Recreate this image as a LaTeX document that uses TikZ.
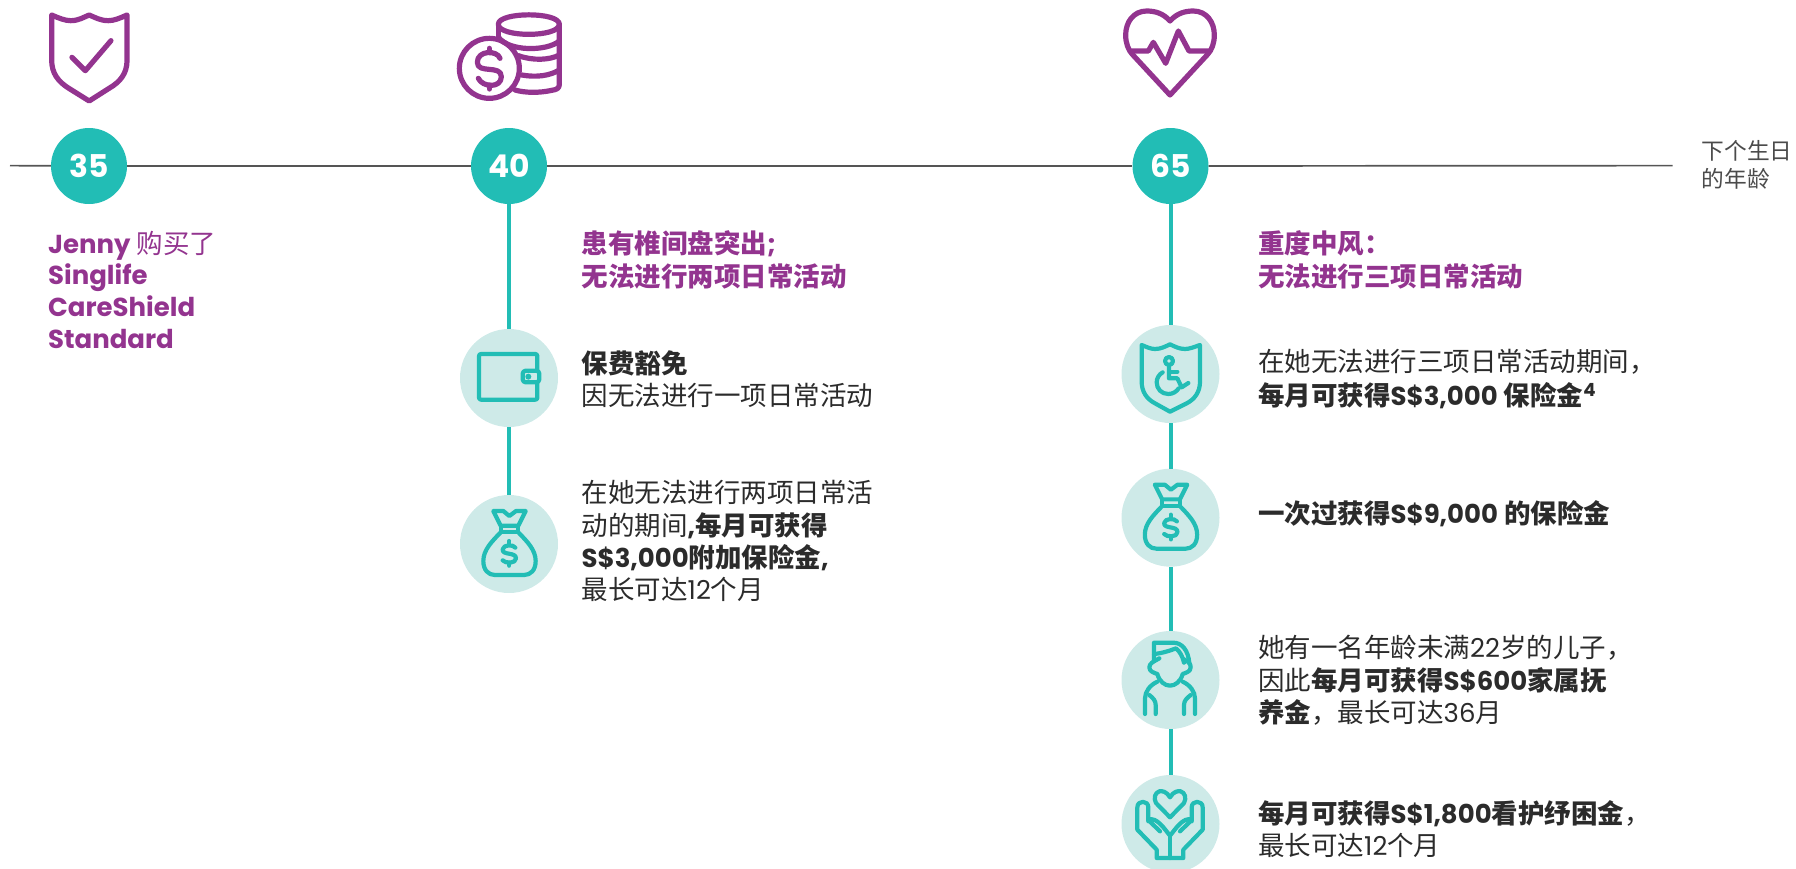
\documentclass[tikz,border=0pt]{standalone}
\usepackage{fontspec}
\setmainfont{Noto Sans CJK SC}
\newfontfamily\latf[Scale=0.98]{Poppins}
\newcommand\Lat[1]{{\latf #1}}
\definecolor{vio}{HTML}{93348F}
\definecolor{tealc}{HTML}{22BDB5}
\definecolor{pale}{HTML}{CEEAE8}
\definecolor{ink}{HTML}{2B2B2B}
\definecolor{axis}{HTML}{555555}
\tikzset{
  agec/.style={circle,fill=tealc,text=white,minimum size=76pt,inner sep=0pt,font=\fontsize{32}{32}\selectfont\bfseries},
  evc/.style={circle,fill=pale,minimum size=98pt,inner sep=0pt},
  blk/.style={anchor=north west,inner sep=0pt,align=left,text=ink,font=\fontsize{26.5}{32}\selectfont},
  head/.style={blk,text=vio,font=\fontsize{26.5}{31.7}\selectfont\bfseries},
  note/.style={anchor=north west,inner sep=0pt,align=left,text=ink!85,font=\fontsize{22.7}{28}\selectfont},
  axisline/.style={draw=axis,line width=1.7pt},
  stem/.style={draw=tealc,line width=4pt},
  icv/.style={draw=vio,line width=5.2pt,line join=round,line cap=round},
  ict/.style={draw=tealc,line width=4.2pt,line join=round,line cap=round},
  zoomed/.style={x=0.33333pt,y=-0.33333pt}
}
\newcommand\BagIcon{%
  \draw[ict] (100,48) -- (130,48) -- (148,63) -- (168,48) -- (197,48) -- (175,92) -- (122,92) -- cycle;
  \draw[ict] (122,92) -- (122,112) -- (175,112) -- (175,92);
  \draw[ict] (122,112) .. controls (95,140) and (70,165) .. (70,198) .. controls (70,225) and (85,240) .. (105,240) -- (192,240) .. controls (212,240) and (227,225) .. (227,198) .. controls (227,165) and (202,140) .. (175,112);
  \draw[ict] (166,158) .. controls (160,148) and (130,148) .. (128,163) .. controls (126,182) and (168,170) .. (168,190) .. controls (168,206) and (136,206) .. (128,196);
  \draw[ict] (148,138) -- (148,149) (148,203) -- (148,212);
}
\begin{document}
\begin{tikzpicture}[x=1pt,y=-1pt]
\useasboundingbox (0,0) rectangle (1796,868);
\clip (0,0) rectangle (1796,868);
% timeline
\coordinate (ls) at (10,165.6);
\coordinate (le) at (1672.6,165.6);
\node[agec] (a35) at (89,166) {\Lat{35}};
\node[agec] (a40) at (509,166) {\Lat{40}};
\node[agec] (a65) at (1170.5,166) {\Lat{65}};
\draw[axisline] (ls) -- (a35);
\draw[axisline] (a35) -- (a40);
\draw[axisline] (a40) -- (a65);
\draw[axisline] (a65) -- (le);
% event circles
\node[evc] (e1) at (509,378) {};
\node[evc] (e2) at (509,544) {};
\node[evc] (f1) at (1170.5,374) {};
\node[evc] (f2) at (1170.5,517.7) {};
\node[evc] (f3) at (1170.5,680) {};
\node[evc] (f4) at (1170.5,824) {};
\draw[stem] (a40) -- (e1);
\draw[stem] (e1) -- (e2);
\draw[stem] (a65) -- (f1);
\draw[stem] (f1) -- (f2);
\draw[stem] (f2) -- (f3);
\draw[stem] (f3) -- (f4);
% texts
\node[head] (tj) at (48,230.6) {\strut\Lat{Jenny} {\mdseries 购买了}\\\Lat{Singlife}\\\Lat{CareShield}\\\Lat{Standard}\strut};
\node[head] (t40) at (581.5,230.6) {\strut 患有椎间盘突出\Lat{;}\\无法进行两项日常活动\strut};
\node[head] (t65) at (1258,230.1) {\strut 重度中风：\\无法进行三项日常活动\strut};
\node[blk] (b1) at (581.5,350.6) {\strut\textbf{保费豁免}\\因无法进行一项日常活动\strut};
\node[blk] (b2) at (581.5,479.6) {\strut 在她无法进行两项日常活\\动的期间\Lat{\textbf{,}}\textbf{每月可获得}\\\textbf{\Lat{S\$3,000}附加保险金\Lat{,}}\\最长可达\Lat{12}个月\strut};
\node[blk] (c1) at (1258,349.1) {\strut 在她无法进行三项日常活动期间，\\\textbf{每月可获得\Lat{S\$3,000} 保险金\textsuperscript{\Lat{4}}}\strut};
\node[blk] (c2) at (1258,500.6) {\strut\textbf{一次过获得\Lat{S\$9,000} 的保险金}\strut};
\node[blk] (c3) at (1258,634.6) {\strut 她有一名年龄未满\Lat{22}岁的儿子，\\因此\textbf{每月可获得\Lat{S\$600}家属抚}\\\textbf{养金}，最长可达\Lat{36}月\strut};
\node[blk] (c4) at (1258,800) {\strut\textbf{每月可获得\Lat{S\$1,800}看护纾困金}，\\最长可达\Lat{12}个月\strut};
\node[note] (lab) at (1701.4,140) {\strut 下个生日\\的年龄\strut};
% shield icon
\begin{scope}[shift={(0,0)},x=0.38270pt,y=-0.33333pt]
  \draw[icv] (135,45) .. controls (155,55) and (170,62) .. (185,62) .. controls (205,62) and (218,52) .. (233,45) .. controls (248,52) and (262,62) .. (283,62) .. controls (298,62) and (312,55) .. (332,45) -- (332,180) .. controls (332,220) and (315,245) .. (285,265) -- (233,303) -- (180,265) .. controls (152,245) and (135,220) .. (135,180) -- cycle;
  \draw[icv] (188,172) -- (223,212) -- (290,122);
\end{scope}
% coins icon
\begin{scope}[shift={(450,5)},zoomed]
  \draw[icv] (118,190) circle[radius=90];
  \draw[icv] (150,160) .. controls (142,135) and (82,135) .. (82,172) .. controls (82,208) and (154,178) .. (154,215) .. controls (154,250) and (98,248) .. (85,220);
  \draw[icv] (118,130) -- (118,143) (118,240) -- (118,252);
  \draw[icv] (145,58) .. controls (145,20) and (328,20) .. (328,58) .. controls (328,98) and (145,98) .. (145,58) -- cycle;
  \draw[icv] (145,58) -- (145,96);
  \draw[icv] (328,58) -- (328,238) .. controls (328,250) and (320,254) .. (305,256) .. controls (270,264) and (225,264) .. (195,255);
  \draw[icv] (145,96) .. controls (175,140) and (290,140) .. (328,108);
  \draw[icv] (205,152) .. controls (250,168) and (300,165) .. (328,150);
  \draw[icv] (215,210) .. controls (260,218) and (300,212) .. (328,195);
\end{scope}
% heart icon
\begin{scope}[shift={(1115,5)},zoomed]
  \draw[icv] (165,48) .. controls (145,25) and (120,18) .. (95,18) .. controls (55,18) and (32,52) .. (32,90) .. controls (32,115) and (40,135) .. (52,148) -- (165,270) -- (278,148) .. controls (290,135) and (298,115) .. (298,90) .. controls (298,52) and (275,18) .. (235,18) .. controls (210,18) and (185,25) .. (165,48) -- cycle;
  \draw[icv] (50,138) -- (100,138) -- (115,112) -- (152,175) -- (190,78) -- (222,138) -- (280,138);
\end{scope}
% wallet icon
\begin{scope}[shift={(460,329)},zoomed]
  \draw[ict,rounded corners=2pt] (57,75) rectangle (232,212);
  \draw[ict,fill=pale,rounded corners=3pt] (188,125) rectangle (238,160);
  \fill[tealc] (205,143) circle[radius=9];
\end{scope}
% money bags
\begin{scope}[shift={(460,495)},zoomed]\BagIcon\end{scope}
\begin{scope}[shift={(1121.5,468.7)},zoomed]\BagIcon\end{scope}
% wheelchair shield
\begin{scope}[shift={(1120,325)},zoomed]
  \draw[ict] (65,60) .. controls (80,66) and (92,72) .. (105,72) .. controls (122,72) and (135,65) .. (150,58) .. controls (165,65) and (178,72) .. (195,72) .. controls (208,72) and (222,66) .. (240,60) -- (240,170) .. controls (240,200) and (225,222) .. (200,235) -- (150,260) -- (105,235) .. controls (80,222) and (65,200) .. (65,170) -- cycle;
  \draw[ict] (147,108) circle[radius=12];
  \draw[ict] (147,120) -- (147,160) -- (172,160) -- (185,187) -- (205,174);
  \draw[ict] (147,140) -- (172,140);
  \draw[ict] (128,142) .. controls (117,148) and (110,160) .. (110,172) .. controls (110,192) and (125,207) .. (145,207) .. controls (158,207) and (170,200) .. (176,190);
\end{scope}
% boy
\begin{scope}[shift={(1120,630)},zoomed]
  \draw[ict] (102,92) -- (102,38) -- (160,38) .. controls (185,38) and (205,60) .. (208,100);
  \draw[ict] (102,72) .. controls (125,70) and (150,62) .. (168,55) .. controls (180,65) and (188,80) .. (192,98);
  \draw[ict] (118,85) .. controls (100,95) and (88,100) .. (88,112) .. controls (88,125) and (102,128) .. (112,132) .. controls (118,155) and (135,167) .. (150,167) .. controls (165,167) and (182,155) .. (188,132) .. controls (198,128) and (212,125) .. (212,112) .. controls (212,100) and (205,95) .. (192,88);
  \draw[ict] (112,155) .. controls (90,165) and (75,185) .. (75,205) -- (75,252);
  \draw[ict] (188,155) .. controls (210,165) and (225,185) .. (225,205) -- (225,252);
  \draw[ict] (88,195) .. controls (100,205) and (107,212) .. (107,225) -- (107,252);
  \draw[ict] (212,195) .. controls (200,205) and (192,212) .. (192,225) -- (192,252);
\end{scope}
% hands
\begin{scope}[shift={(1120,768)},zoomed]
  \draw[ict] (150,88) .. controls (140,70) and (125,68) .. (118,70) .. controls (105,74) and (100,90) .. (108,105) -- (150,148) -- (192,105) .. controls (200,90) and (195,74) .. (182,70) .. controls (175,68) and (160,70) .. (150,88) -- cycle;
  \draw[ict] (85,160) -- (85,118) .. controls (85,96) and (52,96) .. (52,118) -- (52,185) -- (110,245) -- (110,270) -- (190,270) -- (190,245) -- (248,185) -- (248,118) .. controls (248,96) and (215,96) .. (215,118) -- (215,160);
  \draw[ict] (85,155) .. controls (110,145) and (135,185) .. (150,203) .. controls (165,185) and (190,145) .. (215,155);
  \draw[ict] (150,203) -- (150,270);
  \draw[ict] (92,163) -- (120,190) (208,163) -- (180,190);
\end{scope}
\end{tikzpicture}
\end{document}
